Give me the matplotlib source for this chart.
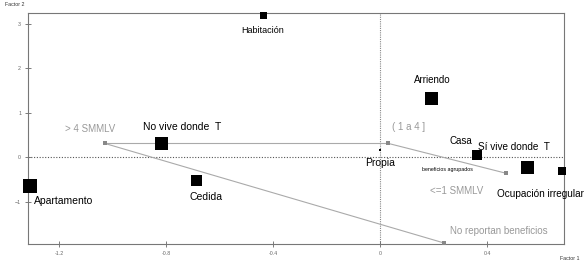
import matplotlib.pyplot as plt

# housing categories (factor coordinates)
cat_names = ["Habitación", "Arriendo", "Casa", "Sí vive donde  T", "Ocupación irregular",
             "Apartamento", "No vive donde  T", "Cedida", "Propia"]
cat_x = [-0.44, 0.19, 0.36, 0.55, 0.68, -1.31, -0.82, -0.69, 0.0]
cat_y = [3.19, 1.33, 0.05, -0.22, -0.31, -0.65, 0.31, -0.52, 0.16]
cat_w = [7, 13, 10, 13, 8, 14, 13, 11, 2]

# income categories (supplementary, linked)
inc_names = ["> 4 SMMLV", "( 1 a 4 ]", "<=1 SMMLV", "No reportan beneficios"]
inc_x = [-1.03, 0.03, 0.47, 0.24]
inc_y = [0.31, 0.31, -0.36, -1.93]

plt.rcParams['font.family'] = ['Liberation Sans', 'DejaVu Sans']

fig = plt.figure(figsize=(5.87, 2.61), dpi=100)
ax = fig.add_axes([28/587, 17/261, 536/587, 231/261])
ax.set_xlim(-1.317, 0.687)
ax.set_ylim(-1.95, 3.24)

ax.axvline(0, color="#888888", lw=0.8, ls=(0, (1, 1)), zorder=1)
ax.axhline(0, color="#555555", lw=0.8, ls=(0, (1, 1.5)), zorder=1)

# link lines between income points
pairs = [(0, 1), (1, 2), (0, 3)]
for a, b in pairs:
    ax.plot([inc_x[a], inc_x[b]], [inc_y[a], inc_y[b]], color="#aaaaaa", lw=0.8, zorder=2)
ax.scatter(inc_x, inc_y, marker="s", s=(5*0.72)**2, color="#888888", zorder=3,
           linewidths=0, clip_on=False)

for x, y, w in zip(cat_x, cat_y, cat_w):
    ax.scatter(x, y, marker="s", s=(w*0.72)**2, color="black", zorder=4,
               linewidths=0, clip_on=False)

# labels
cat_lab = {
    "Habitación": (-0.44, 2.85, 6.5),
    "Arriendo": (0.195, 1.73, 7),
    "Casa": (0.30, 0.36, 7),
    "Sí vive donde  T": (0.50, 0.22, 7.2),
    "Ocupación irregular": (0.60, -0.83, 7.2),
    "Apartamento": (-1.185, -0.99, 7.5),
    "No vive donde  T": (-0.74, 0.68, 7.5),
    "Cedida": (-0.65, -0.89, 7.5),
    "Propia": (0.0, -0.13, 7.5),
}
for name, (x, y, fs) in cat_lab.items():
    ax.text(x, y, name, fontsize=fs, ha="center", va="center", color="black", zorder=5)

inc_lab = [(-1.085, 0.63, 7), (0.105, 0.67, 7), (0.285, -0.75, 7), (0.445, -1.65, 7)]
for name, (x, y, fs) in zip(inc_names, inc_lab):
    ax.text(x, y, name, fontsize=fs, ha="center", va="center", color="#999999", zorder=5)
ax.text(0.25, -0.28, "beneficios agrupados", fontsize=3.8, ha="center", va="center", color="black")

ax.set_xticks([-1.2, -0.8, -0.4, 0, 0.4])
ax.set_xticklabels(["-1.2", "-0.8", "-0.4", "0", "0.4"])
ax.set_yticks([-1, 0, 1, 2, 3])
ax.tick_params(direction="inout", length=4, width=0.6, colors="#666666", labelsize=3.8, pad=3)
for s in ax.spines.values():
    s.set_color("#777777")
    s.set_linewidth(0.8)

fig.text(5/587, 1 - 5/261, "Factor 2", fontsize=3.8, color="#333333", va="center")
fig.text(560/587, 1 - 259/261, "Factor 1", fontsize=3.8, color="#333333", va="center")

fig.savefig("out.png", dpi=100)
plt.close(fig)
